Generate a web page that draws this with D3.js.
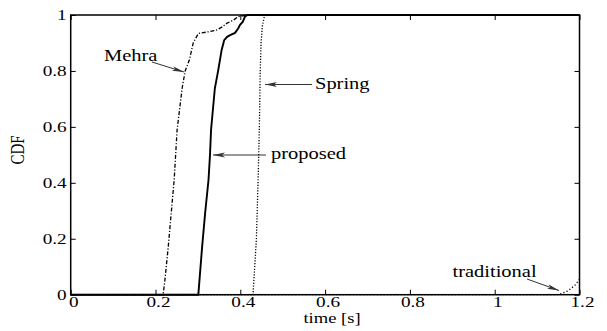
<!DOCTYPE html>
<html>
<head>
<meta charset="utf-8">
<script src="https://cdn.jsdelivr.net/npm/d3@7"></script>
<style>
html,body{margin:0;padding:0;background:#fff;}
svg{display:block;}
text{font-family:"Liberation Serif","Times New Roman",serif;fill:#000;}
</style>
</head>
<body>
<svg id="chart" width="607" height="331"></svg>
<script>
// ---- data ----
const xTicks = [0, 0.2, 0.4, 0.6, 0.8, 1, 1.2];
const yTicks = [0, 0.2, 0.4, 0.6, 0.8, 1];
const xTickLabels = ["0", "0.2", "0.4", "0.6", "0.8", "1", "1.2"];
const yTickLabels = ["0", "0.2", "0.4", "0.6", "0.8", "1"];

const mehraTime = [0, 0.218, 0.222, 0.230, 0.237, 0.244, 0.251, 0.263, 0.270, 0.280, 0.289, 0.301, 0.325, 0.344, 0.358, 0.368, 0.384, 0.395, 0.415, 1.2];
const mehraCdf  = [0, 0, 0.05, 0.17, 0.29, 0.41, 0.59, 0.74, 0.80, 0.84, 0.90, 0.934, 0.94, 0.946, 0.958, 0.97, 0.982, 0.994, 1, 1];

const proposedTime = [0, 0.301, 0.310, 0.317, 0.325, 0.3285, 0.331, 0.336, 0.340, 0.348, 0.356, 0.362, 0.369, 0.376, 0.3875, 0.395, 0.399, 0.406, 0.411, 0.4166, 1.2];
const proposedCdf  = [0, 0, 0.172, 0.291, 0.41, 0.499, 0.589, 0.672, 0.738, 0.803, 0.875, 0.91, 0.922, 0.928, 0.936, 0.952, 0.964, 0.976, 0.994, 1, 1];

const springTime = [0, 0.430, 0.434, 0.438, 0.442, 0.445, 0.447, 0.449, 0.452, 0.456, 0.458, 1.2];
const springCdf  = [0, 0, 0.10, 0.20, 0.41, 0.60, 0.80, 0.90, 0.96, 0.99, 1, 1];

const traditionalTime = [0, 1.150, 1.160, 1.170, 1.180, 1.190, 1.200];
const traditionalCdf  = [0, 0, 0.005, 0.012, 0.022, 0.035, 0.055];

const seriesNames = ["Mehra", "proposed", "Spring", "traditional"];

// ---- layout ----
const svg = d3.select("#chart");
const pL = 70.7, pR = 579.5, pT = 15, pB = 294.7;
const x = d3.scaleLinear().domain([0, 1.2]).range([pL, pR]);
const y = d3.scaleLinear().domain([0, 1]).range([pB, pT]);
const SX = 1.28; // horizontal stretch of the glyphs in the reference

function stext(g, str, px, py, size, anchor) {
  return g.append("text")
    .attr("transform", `translate(${px},${py}) scale(${SX},1)`)
    .attr("font-size", size)
    .attr("text-anchor", anchor || "start")
    .text(str);
}

// ---- series ----
const line = d3.line().x(d => x(d[0])).y(d => y(d[1]));
const zip = (a, b) => a.map((v, i) => [v, b[i]]);
const series = [
  {name: seriesNames[0], data: zip(mehraTime, mehraCdf), dash: "4,1.8,1.2,1.8", w: 1.3},
  {name: seriesNames[1], data: zip(proposedTime, proposedCdf), dash: null, w: 1.9},
  {name: seriesNames[2], data: zip(springTime, springCdf), dash: "1.2,1.6", w: 1.3},
  {name: seriesNames[3], data: zip(traditionalTime, traditionalCdf), dash: "1.2,2.2", w: 1.3}
];
series.forEach(s => {
  svg.append("path")
    .attr("d", line(s.data))
    .attr("fill", "none")
    .attr("stroke", "#000")
    .attr("stroke-width", s.w)
    .attr("stroke-dasharray", s.dash);
});

// ---- axes box & ticks ----
const ax = svg.append("g");
ax.append("rect").attr("x", pL).attr("y", pT).attr("width", pR - pL).attr("height", pB - pT)
  .attr("fill", "none").attr("stroke", "#000").attr("stroke-width", 1.5);

const xAxisB = d3.axisBottom(x).tickValues(xTicks).tickSize(-5).tickFormat("");
const xAxisT = d3.axisTop(x).tickValues(xTicks).tickSize(-5).tickFormat("");
const yAxisL = d3.axisLeft(y).tickValues(yTicks).tickSize(-5).tickFormat("");
const yAxisR = d3.axisRight(y).tickValues(yTicks).tickSize(-5).tickFormat("");
[[xAxisB, `translate(0,${pB})`], [xAxisT, `translate(0,${pT})`],
 [yAxisL, `translate(${pL},0)`], [yAxisR, `translate(${pR},0)`]].forEach(([a, tr]) => {
  const g = ax.append("g").attr("transform", tr).call(a);
  g.select(".domain").remove();
  g.selectAll("line").attr("stroke", "#000").attr("stroke-width", 1);
});

// tick labels
xTicks.forEach((v, i) => stext(ax, xTickLabels[i], x(v) + 3, 306.5, 15, "middle"));
yTicks.forEach((v, i) => stext(ax, yTickLabels[i], pL - 4, y(v) + 5, 15, "end"));

// axis titles
stext(svg, "time [s]", 332, 323, 14.5, "middle");
svg.append("text")
  .attr("transform", `translate(24,150) rotate(-90) scale(1,${SX})`)
  .attr("font-size", 15).attr("text-anchor", "middle").text("CDF");

// ---- annotations ----
const defs = svg.append("defs");
defs.append("marker").attr("id", "ah").attr("viewBox", "0 0 12 6")
  .attr("refX", 12).attr("refY", 3).attr("markerWidth", 12).attr("markerHeight", 6)
  .attr("markerUnits", "userSpaceOnUse").attr("orient", "auto")
  .append("path").attr("d", "M0,0.6 L12,3 L0,5.4 L3,3 Z").attr("fill", "#333");

function arrow(x1, y1, x2, y2) {
  svg.append("line").attr("x1", x1).attr("y1", y1).attr("x2", x2).attr("y2", y2)
    .attr("stroke", "#333").attr("stroke-width", 1).attr("marker-end", "url(#ah)");
}
stext(svg, seriesNames[0], 104, 60.5, 16);
arrow(152, 62, 184, 72);
stext(svg, seriesNames[2], 315, 88.5, 16);
arrow(312, 84.5, 265, 84.5);
stext(svg, seriesNames[1], 271, 159, 16);
arrow(266, 155, 213, 155);
stext(svg, seriesNames[3], 452.5, 277, 16);
arrow(527, 279, 559, 290.5);
</script>
</body>
</html>
